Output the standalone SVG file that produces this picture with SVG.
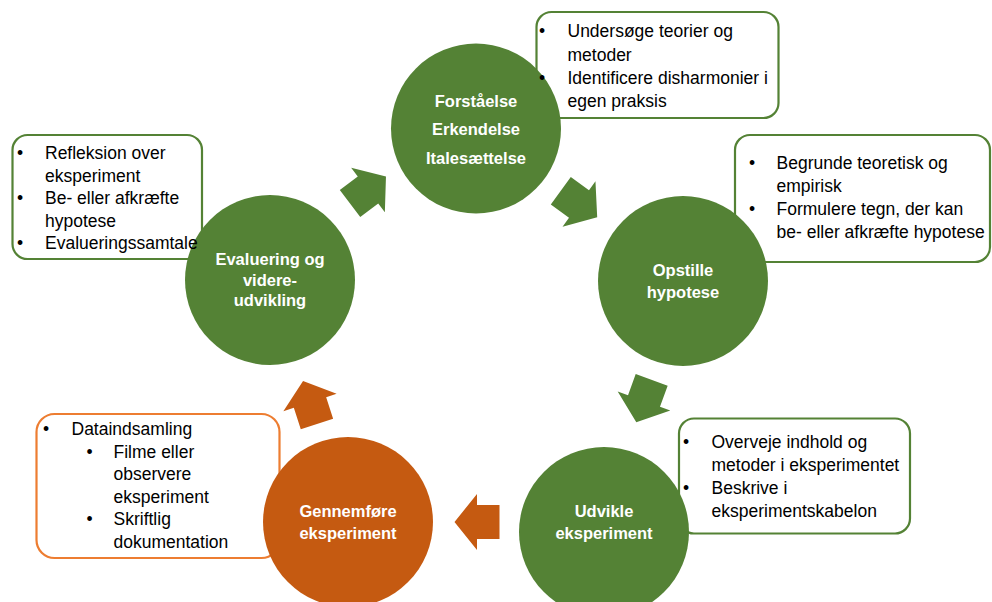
<svg xmlns="http://www.w3.org/2000/svg" xmlns:xlink="http://www.w3.org/1999/xlink" width="992" height="602" viewBox="0 0 992 602">
<style>
.frame-g{fill:none;stroke:#548235;stroke-width:2.2}
.frame-o{fill:none;stroke:#ED7D31;stroke-width:2.2}
.c-g{fill:#548235}
.c-o{fill:#C55A11}
.lbl{font-family:"Liberation Sans",Arial,sans-serif;font-size:16.5px;font-weight:bold;fill:#fff;text-anchor:middle}
.txt{font-family:"Liberation Sans",Arial,sans-serif;font-size:17.5px;fill:#000}
.a-g{fill:#548235}
.a-o{fill:#C55A11}
</style>
<defs>
<path id="arr" d="M-22.5,-17 H0 V-28 L22.5,0 L0,28 V17 H-22.5 Z"/>
</defs>
<rect width="992" height="602" fill="#fff"/>
<g id="frames">
<rect class="frame-g" x="536.5" y="12" width="242" height="106" rx="15"/>
<rect class="frame-g" x="12.5" y="135" width="189.5" height="124" rx="15"/>
<rect class="frame-g" x="735" y="135" width="255" height="127" rx="15"/>
<rect class="frame-g" x="679" y="418.5" width="231" height="115" rx="15"/>
<rect class="frame-o" x="36.5" y="414" width="243" height="144" rx="18"/>
</g>
<g id="connectors">
<use href="#arr" class="a-g" transform="translate(368,190) rotate(-37)"/>
<use href="#arr" class="a-g" transform="translate(579,204) rotate(36)"/>
<use href="#arr" class="a-g" transform="translate(644,401) rotate(110)"/>
<use href="#arr" class="a-o" transform="translate(477,522) rotate(180)"/>
<use href="#arr" class="a-o" transform="translate(310,402.5) rotate(-108)"/>
</g>
<g id="node-forstaaelse">
<circle class="c-g" cx="476" cy="128.5" r="85"/>
<text class="lbl" x="476" y="107">Forståelse</text>
<text class="lbl" x="476" y="135">Erkendelse</text>
<text class="lbl" x="476" y="164">Italesættelse</text>
</g>
<g id="node-opstille">
<circle class="c-g" cx="683" cy="281" r="85"/>
<text class="lbl" x="683" y="276">Opstille</text>
<text class="lbl" x="683" y="298">hypotese</text>
</g>
<g id="node-udvikle">
<circle class="c-g" cx="604" cy="532" r="85"/>
<text class="lbl" x="604" y="517">Udvikle</text>
<text class="lbl" x="604" y="539">eksperiment</text>
</g>
<g id="node-gennemfoere">
<circle class="c-o" cx="348" cy="522" r="85"/>
<text class="lbl" x="348" y="517">Gennemføre</text>
<text class="lbl" x="348" y="539">eksperiment</text>
</g>
<g id="node-evaluering">
<circle class="c-g" cx="270" cy="280" r="85"/>
<text class="lbl" x="270" y="265">Evaluering og</text>
<text class="lbl" x="270" y="286">videre-</text>
<text class="lbl" x="270" y="306">udvikling</text>
</g>
<g id="box-forstaaelse" class="txt">
<text x="539" y="37">•</text><text x="567.5" y="37">Undersøge teorier og</text>
<text x="567.5" y="60.5">metoder</text>
<text x="539" y="84">•</text><text x="567.5" y="84">Identificere disharmonier i</text>
<text x="567.5" y="107">egen praksis</text>
</g>
<g id="box-evaluering" class="txt">
<text x="17" y="159">•</text><text x="45" y="159">Refleksion over</text>
<text x="45" y="181.5">eksperiment</text>
<text x="17" y="204">•</text><text x="45" y="204">Be- eller afkræfte</text>
<text x="45" y="226.5">hypotese</text>
<text x="17" y="249">•</text><text x="45" y="249">Evalueringssamtale</text>
</g>
<g id="box-opstille" class="txt">
<text x="749" y="169">•</text><text x="776.5" y="169">Begrunde teoretisk og</text>
<text x="776.5" y="192">empirisk</text>
<text x="749" y="215">•</text><text x="776.5" y="215">Formulere tegn, der kan</text>
<text x="776.5" y="238">be- eller afkræfte hypotese</text>
</g>
<g id="box-udvikle" class="txt">
<text x="683" y="448">•</text><text x="711.5" y="448">Overveje indhold og</text>
<text x="711.5" y="471">metoder i eksperimentet</text>
<text x="683" y="494">•</text><text x="711.5" y="494">Beskrive i</text>
<text x="711.5" y="517">eksperimentskabelon</text>
</g>
<g id="box-gennemfoere" class="txt">
<text x="43" y="435">•</text><text x="71.5" y="435">Dataindsamling</text>
<text x="86.5" y="457.5">•</text><text x="113.5" y="457.5">Filme eller</text>
<text x="113.5" y="480">observere</text>
<text x="113.5" y="502.5">eksperiment</text>
<text x="86.5" y="525">•</text><text x="113.5" y="525">Skriftlig</text>
<text x="113.5" y="547.5">dokumentation</text>
</g>
</svg>
